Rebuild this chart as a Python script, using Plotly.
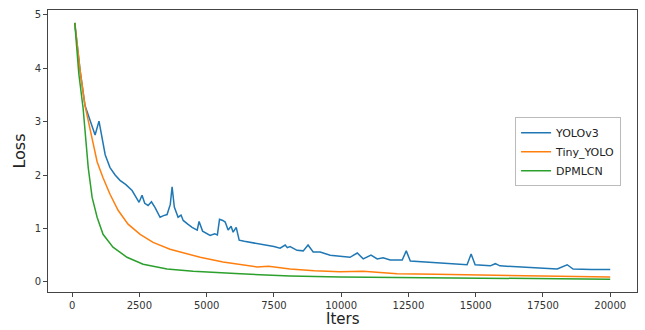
import plotly.graph_objects as go

# ---- data ----
iters_yolov3 = [100, 300, 480, 650, 855, 1000, 1230, 1410, 1600, 1780, 2000, 2230, 2400, 2490,
                2600, 2700, 2825, 2950, 3085, 3270, 3400, 3530, 3650, 3717, 3800, 3940, 4050,
                4130, 4300, 4460, 4650, 4720, 4850, 5000, 5130, 5300, 5400, 5480, 5600, 5690,
                5800, 5910, 5985, 6100, 6210, 6400, 6620, 6900, 7250, 7500, 7730, 7920, 8000,
                8100, 8360, 8590, 8770, 8960, 9220, 9590, 9960, 10330, 10600, 10820, 11110,
                11340, 11560, 11820, 12270, 12420, 12570, 13310, 14050, 14680, 14830, 14980,
                15540, 15730, 15900, 16650, 17300, 18030, 18400, 18620, 19300, 19890, 20000]
loss_yolov3 = [4.85, 3.95, 3.30, 3.05, 2.75, 3.01, 2.38, 2.14, 2.00, 1.90, 1.82, 1.71, 1.58, 1.49,
               1.62, 1.47, 1.43, 1.50, 1.39, 1.21, 1.24, 1.26, 1.45, 1.78, 1.40, 1.21, 1.25,
               1.15, 1.08, 1.02, 0.97, 1.13, 0.95, 0.90, 0.87, 0.90, 0.88, 1.17, 1.15, 1.12,
               0.97, 1.04, 0.93, 1.02, 0.78, 0.76, 0.74, 0.72, 0.69, 0.66, 0.63, 0.69, 0.64,
               0.66, 0.59, 0.58, 0.69, 0.56, 0.56, 0.50, 0.48, 0.46, 0.54, 0.43, 0.50,
               0.43, 0.45, 0.41, 0.41, 0.58, 0.39, 0.37, 0.35, 0.32, 0.52, 0.32,
               0.30, 0.34, 0.30, 0.28, 0.27, 0.24, 0.32, 0.24, 0.23, 0.22, 0.23]

iters_tiny = [100, 300, 480, 650, 780, 930, 1150, 1410, 1710, 2080, 2530, 3010, 3640, 4280,
              4760, 5610, 6880, 7300, 8100, 9000, 9960, 10820, 12080, 13500, 15170, 17290, 20000]
loss_tiny = [4.85, 3.95, 3.30, 2.90, 2.65, 2.25, 1.95, 1.64, 1.34, 1.08, 0.89, 0.74, 0.61, 0.52,
             0.46, 0.37, 0.28, 0.29, 0.24, 0.21, 0.19, 0.20, 0.15, 0.14, 0.13, 0.11, 0.09]

iters_dpmlcn = [100, 250, 410, 520, 600, 745, 930, 1150, 1520, 2040, 2640, 3530, 4500, 6250,
                8100, 9960, 12000, 15170, 17500, 20000]
loss_dpmlcn = [4.85, 3.90, 3.25, 2.50, 2.14, 1.58, 1.21, 0.89, 0.65, 0.46, 0.33, 0.24, 0.20, 0.15,
               0.11, 0.09, 0.08, 0.06, 0.055, 0.05]

x_ticks = [0, 2500, 5000, 7500, 10000, 12500, 15000, 17500, 20000]
x_tick_labels = ["0", "2500", "5000", "7500", "10000", "12500", "15000", "17500", "20000"]
y_ticks = [0, 1, 2, 3, 4, 5]
y_tick_labels = ["0", "1", "2", "3", "4", "5"]

fig = go.Figure()
fig.add_trace(go.Scatter(x=iters_yolov3, y=loss_yolov3, mode="lines", name="YOLOv3",
                         line=dict(color="#1f77b4", width=1.5)))
fig.add_trace(go.Scatter(x=iters_tiny, y=loss_tiny, mode="lines", name="Tiny_YOLO",
                         line=dict(color="#ff7f0e", width=1.5)))
fig.add_trace(go.Scatter(x=iters_dpmlcn, y=loss_dpmlcn, mode="lines", name="DPMLCN",
                         line=dict(color="#2ca02c", width=1.5)))

axis_common = dict(showgrid=False, zeroline=False, showline=True, linecolor="#444",
                   linewidth=1, mirror=True, ticks="outside", ticklen=4, tickcolor="#444",
                   automargin=False,
                   tickfont=dict(family="DejaVu Sans", size=10, color="#333"))

fig.update_layout(
    width=645, height=330,
    margin=dict(l=48, r=8, t=10, b=38),
    paper_bgcolor="white", plot_bgcolor="white",
    font=dict(family="DejaVu Sans", color="#222"),
    xaxis=dict(range=[-895, 20995], tickvals=x_ticks, ticktext=x_tick_labels,
               **axis_common),
    yaxis=dict(range=[-0.19, 5.09], tickvals=y_ticks, ticktext=y_tick_labels,
               title=dict(text="Loss", font=dict(size=16, color="#222"), standoff=5),
               **axis_common),
    legend=dict(x=0.793, y=0.62, xanchor="left", yanchor="top",
                bgcolor="white", bordercolor="#bbb", borderwidth=1,
                font=dict(family="DejaVu Sans", size=11, color="#222"),
                tracegroupgap=0, itemwidth=30),
    showlegend=True,
    annotations=[dict(text="Iters", xref="paper", yref="paper", x=0.5, y=-0.134,
                      xanchor="center", yanchor="bottom", showarrow=False,
                      font=dict(size=15, color="#222", family="DejaVu Sans"))],
)

fig.write_html("out.html", config={"displayModeBar": False},
               post_script="document.body.style.margin='0';document.body.style.overflow='hidden';")
